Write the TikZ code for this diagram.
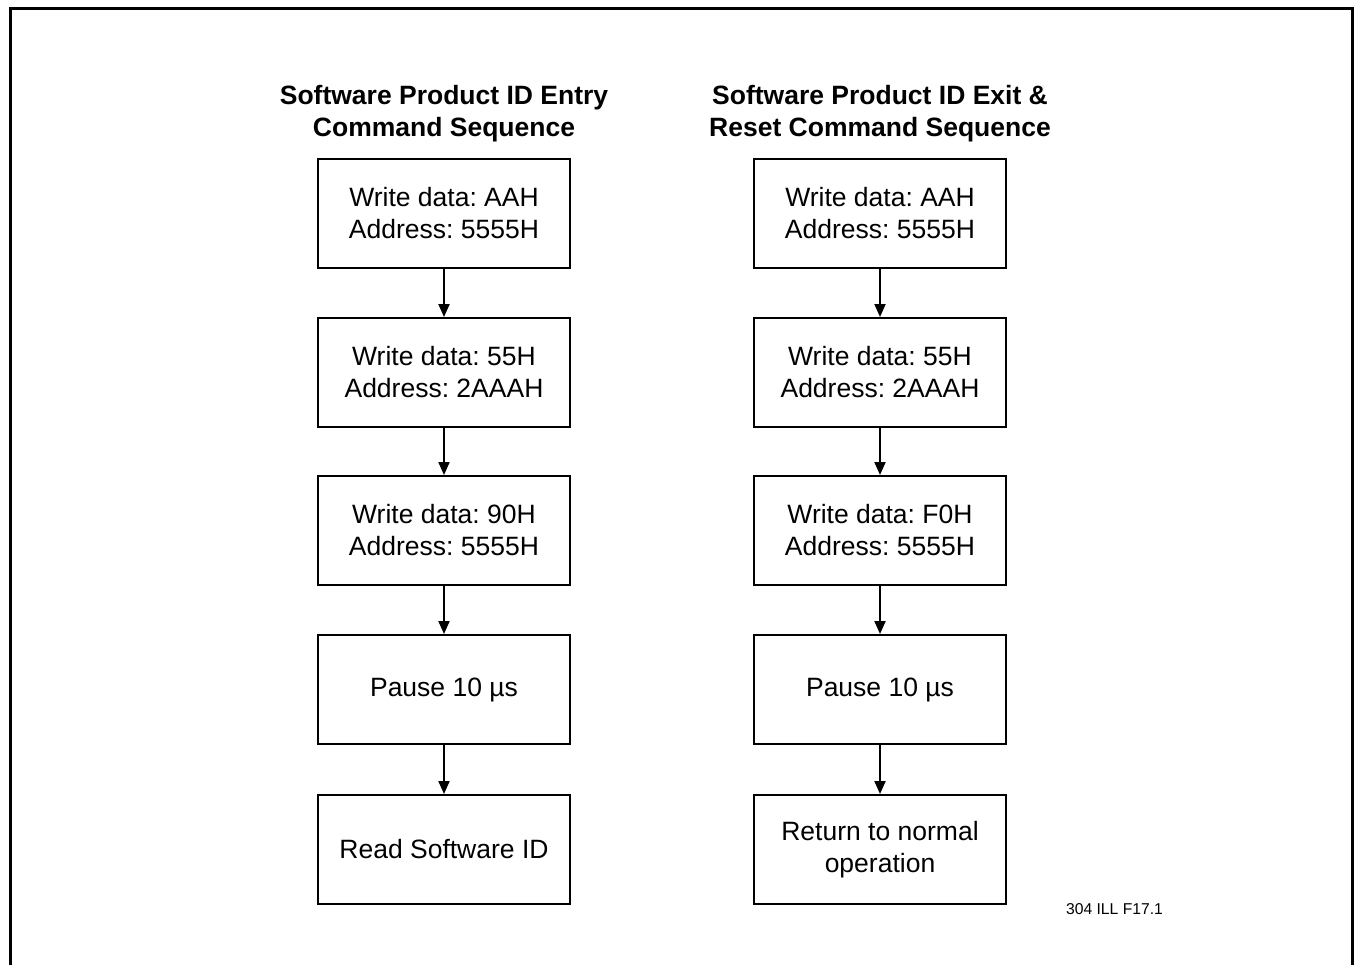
\documentclass[tikz,border=0pt]{standalone}
\usepackage{fontspec}
\setmainfont{Liberation Sans}
\usetikzlibrary{arrows.meta}
\frenchspacing
\begin{document}
\begin{tikzpicture}[x=1pt,y=-1pt,
  stepbox/.style={draw,line width=2pt,minimum width=252pt,minimum height=109pt,inner sep=0pt,align=center,
    font=\fontsize{26.5pt}{32pt}\selectfont},
  titletext/.style={align=center,inner sep=0pt,font=\fontsize{26.5pt}{32pt}\selectfont\bfseries},
  flow/.style={line width=2pt,-{Triangle[length=13pt,width=11pt]}}]
\useasboundingbox (0,0) rectangle (1354,964);
\draw[line width=3pt] (10,966) -- (10,8) -- (1352,8) -- (1352,966);
% titles
\node[titletext] (t1) at (444,114) {Software Product ID Entry\\Command Sequence};
\node[titletext] (t2) at (880,114) {Software Product ID Exit \&\\Reset Command Sequence};
% left column
\node[stepbox] (a1) at (444,213.5) {Write data: AAH\\Address: 5555H};
\node[stepbox] (a2) at (444,372.5) {Write data: 55H\\Address: 2AAAH};
\node[stepbox] (a3) at (444,530.5) {Write data: 90H\\Address: 5555H};
\node[stepbox] (a4) at (444,689.5) {Pause 10 µs};
\node[stepbox] (a5) at (444,849.5) {Read Software ID};
% right column
\node[stepbox] (b1) at (880,213.5) {Write data: AAH\\Address: 5555H};
\node[stepbox] (b2) at (880,372.5) {Write data: 55H\\Address: 2AAAH};
\node[stepbox] (b3) at (880,530.5) {Write data: F0H\\Address: 5555H};
\node[stepbox] (b4) at (880,689.5) {Pause 10 µs};
\node[stepbox] (b5) at (880,849.5) {Return to normal\\operation};
% arrows
\draw[flow] (a1) -- (a2);
\draw[flow] (a2) -- (a3);
\draw[flow] (a3) -- (a4);
\draw[flow] (a4) -- (a5);
\draw[flow] (b1) -- (b2);
\draw[flow] (b2) -- (b3);
\draw[flow] (b3) -- (b4);
\draw[flow] (b4) -- (b5);
% footnote
\node[inner sep=0pt,font=\fontsize{15.7pt}{18pt}\selectfont] (fn) at (1114.5,909) {304 ILL F17.1};
\end{tikzpicture}
\end{document}
